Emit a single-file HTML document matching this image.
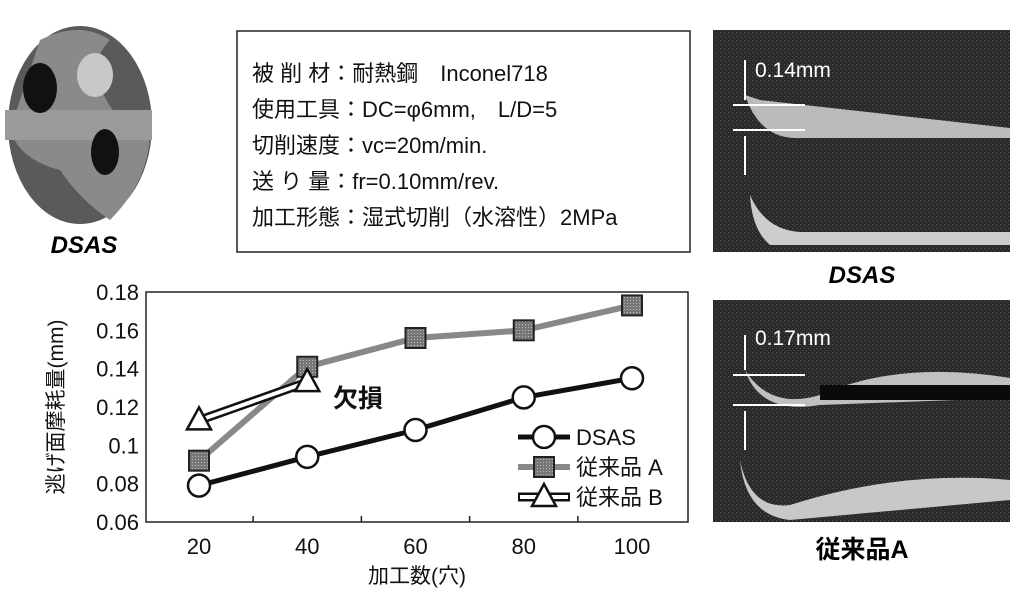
<!DOCTYPE html>
<html><head><meta charset="utf-8"><style>
body{margin:0;width:1024px;height:593px;background:#fff;overflow:hidden;font-family:"Liberation Sans","Noto Sans CJK JP",sans-serif}
svg text{font-family:"Liberation Sans","Noto Sans CJK JP",sans-serif}
</style></head><body>
<svg width="1024" height="593" viewBox="0 0 1024 593">
<defs>
<pattern id="gp" width="3" height="3" patternUnits="userSpaceOnUse"><rect width="3" height="3" fill="#777"/><rect width="1" height="1" fill="#bbb"/></pattern>
<pattern id="noise" width="4" height="4" patternUnits="userSpaceOnUse"><rect width="4" height="4" fill="#2a2a2a"/><rect width="1" height="1" fill="#555"/><rect x="2" y="2" width="1" height="1" fill="#444"/></pattern>
</defs>
<g>
<ellipse cx="80" cy="125" rx="72" ry="99" fill="#5a5a5a"/>
<path d="M40 40 Q80 20 110 40 Q80 70 120 120 L150 130 Q150 180 110 220 Q80 200 60 170 Q20 160 10 130 Z" fill="#8a8a8a"/>
<rect x="5" y="110" width="147" height="30" fill="#9a9a9a"/>
<ellipse cx="40" cy="88" rx="17" ry="25" fill="#111"/>
<ellipse cx="105" cy="152" rx="14" ry="23" fill="#111"/>
<ellipse cx="95" cy="75" rx="18" ry="22" fill="#c8c8c8"/>
</g>
<text x="84" y="253" font-size="24" font-weight="bold" font-style="italic" text-anchor="middle">DSAS</text>
<rect x="237" y="31" width="453" height="221" fill="#fff" stroke="#222" stroke-width="1.5"/>
<g font-size="22" fill="#111">
<text x="252" y="81">被 削 材：耐熱鋼　Inconel718</text>
<text x="252" y="117">使用工具：DC=φ6mm,　L/D=5</text>
<text x="252" y="153">切削速度：vc=20m/min.</text>
<text x="252" y="189">送 り 量：fr=0.10mm/rev.</text>
<text x="252" y="225">加工形態：湿式切削（水溶性）2MPa</text>
</g>
<g>
<rect x="713" y="30" width="297" height="222" fill="url(#noise)"/>
<path d="M745 95 Q760 140 800 138 L1010 138 L1010 128 L760 100 Z" fill="#bbb"/>
<path d="M750 195 Q765 230 800 232 L1010 232 L1010 245 L770 245 Q752 230 750 195Z" fill="#ccc"/>
<line x1="733" y1="105" x2="805" y2="105" stroke="#fff" stroke-width="2"/>
<line x1="733" y1="130" x2="805" y2="130" stroke="#fff" stroke-width="2"/>
<line x1="745" y1="60" x2="745" y2="100" stroke="#fff" stroke-width="2"/>
<line x1="745" y1="136" x2="745" y2="175" stroke="#fff" stroke-width="2"/>
<text x="755" y="77" font-size="21" fill="#fff">0.14mm</text>
</g>
<text x="862" y="283" font-size="24" font-weight="bold" font-style="italic" text-anchor="middle">DSAS</text>
<g>
<rect x="713" y="300" width="297" height="222" fill="url(#noise)"/>
<path d="M745 370 Q770 410 820 395 Q900 360 1010 378 L1010 398 L820 405 Q760 415 745 370Z" fill="#c0c0c0"/>
<path d="M740 460 Q750 510 790 505 Q900 470 1010 480 L1010 500 L790 520 Q745 515 740 460Z" fill="#c8c8c8"/>
<rect x="820" y="385" width="190" height="15" fill="#0a0a0a"/>
<line x1="733" y1="375" x2="805" y2="375" stroke="#fff" stroke-width="2"/>
<line x1="733" y1="405" x2="805" y2="405" stroke="#fff" stroke-width="2"/>
<line x1="745" y1="335" x2="745" y2="370" stroke="#fff" stroke-width="2"/>
<line x1="745" y1="411" x2="745" y2="450" stroke="#fff" stroke-width="2"/>
<text x="755" y="345" font-size="21" fill="#fff">0.17mm</text>
</g>
<text x="862" y="558" font-size="25" font-weight="bold" text-anchor="middle">従来品A</text>
<g id="chart"></g>
</svg>
<script>
const categories=[20,40,60,80,100];
const dsasValues=[0.079,0.094,0.108,0.125,0.135];
const aValues=[0.092,0.141,0.156,0.160,0.173];
const bValues=[0.113,0.133];
const yTicks=[0.06,0.08,0.1,0.12,0.14,0.16,0.18];
const yTickLabels=["0.06","0.08","0.1","0.12","0.14","0.16","0.18"];
const NS="http://www.w3.org/2000/svg";
const g=document.getElementById('chart');
const L=146,R=688,T=292,B=522;
const x=v=>199+(v-20)*(632-199)/80;
const y=v=>B-(v-0.06)*(B-T)/0.12;
function mk(t,a,p){const e=document.createElementNS(NS,t);for(const k in a)e.setAttribute(k,a[k]);(p||g).appendChild(e);return e;}
let e=mk('rect',{x:L,y:T,width:R-L,height:B-T,fill:'none',stroke:'#222','stroke-width':1.5});


yTicks.forEach((t,i)=>{
 e=mk('text',{x:L-7,y:y(t)+8,'font-size':22,'text-anchor':'end',fill:'#111'});e.textContent=yTickLabels[i];
 
 
});
[30,50,70,90].forEach(v=>mk('line',{x1:x(v),x2:x(v),y1:B,y2:B-6,stroke:'#222','stroke-width':1.5}));
categories.forEach(c=>{
 e=mk('text',{x:x(c),y:B+32,'font-size':22,'text-anchor':'middle',fill:'#111'});e.textContent=c;
 
 
});
e=mk('text',{x:417,y:583,'font-size':21,'text-anchor':'middle',fill:'#111'});e.textContent='加工数(穴)';


e=mk('text',{x:0,y:0,'font-size':21,'text-anchor':'middle',fill:'#111',transform:'translate(63,407) rotate(-90)'});e.textContent='逃げ面摩耗量(mm)';


const pts=a=>a.map((v,i)=>x(categories[i])+','+y(v)).join(' ');
e=mk('polyline',{points:pts(aValues),fill:'none',stroke:'#888','stroke-width':6});


e=mk('polyline',{points:pts(bValues),fill:'none',stroke:'#111','stroke-width':9});


mk('polyline',{points:pts(bValues),fill:'none',stroke:'#fff','stroke-width':4});
e=mk('polyline',{points:pts(dsasValues),fill:'none',stroke:'#111','stroke-width':5});


function sq(cx,cy){return mk('rect',{x:cx-10,y:cy-10,width:20,height:20,fill:'url(#gp)',stroke:'#222','stroke-width':2});}
function tri(cx,cy){return mk('polygon',{points:`${cx},${cy-13} ${cx-12},${cy+9} ${cx+12},${cy+9}`,fill:'#fff',stroke:'#111','stroke-width':2.5});}
function circ(cx,cy){return mk('circle',{cx:cx,cy:cy,r:11,fill:'#fff',stroke:'#111','stroke-width':2.5});}
aValues.forEach((v,i)=>{e=sq(x(categories[i]),y(v));
 
 });
bValues.forEach((v,i)=>{e=tri(x(categories[i]),y(v));
 
 });
dsasValues.forEach((v,i)=>{e=circ(x(categories[i]),y(v));
 
 });
e=mk('text',{x:333,y:407,'font-size':25,'font-weight':'bold',fill:'#111'});e.textContent='欠損';


const lx=518,ly=[437,467,497];
mk('line',{x1:lx,x2:lx+52,y1:ly[0],y2:ly[0],stroke:'#111','stroke-width':5});circ(lx+26,ly[0]);
mk('line',{x1:lx,x2:lx+52,y1:ly[1],y2:ly[1],stroke:'#888','stroke-width':6});sq(lx+26,ly[1]);
mk('line',{x1:lx,x2:lx+52,y1:ly[2],y2:ly[2],stroke:'#111','stroke-width':9});mk('line',{x1:lx+2,x2:lx+50,y1:ly[2],y2:ly[2],stroke:'#fff','stroke-width':4});tri(lx+26,ly[2]);
['DSAS','従来品 A','従来品 B'].forEach((t,i)=>{e=mk('text',{x:lx+58,y:ly[i]+8,'font-size':22,fill:'#111'});e.textContent=t;
 
 });
</script>
</body></html>
